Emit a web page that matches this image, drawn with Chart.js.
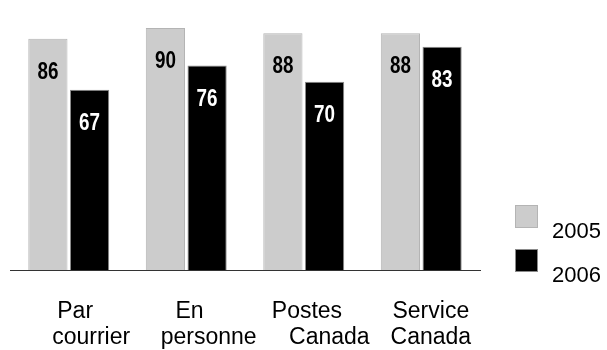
<!DOCTYPE html>
<html lang="fr">
<head>
<meta charset="UTF-8">
<title>2005 / 2006</title>
<script src="https://cdn.jsdelivr.net/npm/chart.js"></script>
<style>
  html, body { margin: 0; padding: 0; background: #fff; }
  #wrap { width: 607px; height: 350px; position: relative; }
</style>
</head>
<body>
<div id="wrap"><canvas id="chart"></canvas></div>
<script>
// category labels (line 1, line 2); leading spaces mimic the original offsets
const categories = [
  ['  Par', '       courrier'],
  [' En', '       personne'],
  [' Postes', '        Canada'],
  ['   Service', '   Canada']
];
const seriesNames = ['2005', '2006'];
const values2005 = [86, 90, 88, 88];
const values2006 = [67, 76, 70, 83];

// value labels written inside the top of each bar (condensed bold)
const valueLabels = {
  id: 'valueLabels',
  afterDatasetsDraw(chart) {
    const ctx = chart.ctx;
    ctx.save();
    ctx.font = 'bold 23px "Liberation Sans", Arial, sans-serif';
    ctx.textAlign = 'center';
    ctx.textBaseline = 'alphabetic';
    chart.data.datasets.forEach((ds, i) => {
      const meta = chart.getDatasetMeta(i);
      ctx.fillStyle = i === 0 ? '#000' : '#fff';
      meta.data.forEach((bar, j) => {
        ctx.save();
        ctx.translate(bar.x, bar.y + 40);
        ctx.scale(0.82, 1);
        ctx.fillText(String(ds.data[j]), 0, 0);
        ctx.restore();
      });
    });
    ctx.restore();
  }
};

// legend at the right, box above-left of its text
const sideLegend = {
  id: 'sideLegend',
  afterDraw(chart) {
    const ctx = chart.ctx;
    ctx.save();
    ctx.font = '22px "Liberation Sans", Arial, sans-serif';
    ctx.textAlign = 'left';
    ctx.textBaseline = 'alphabetic';
    chart.data.datasets.forEach((ds, i) => {
      const top = 205 + i * 44;
      ctx.fillStyle = ds.backgroundColor;
      ctx.fillRect(515, top, 23, 23);
      ctx.strokeStyle = ds.borderColor;
      ctx.lineWidth = 1;
      ctx.strokeRect(515.5, top + 0.5, 22, 22);
      ctx.fillStyle = '#000';
      ctx.fillText(ds.label, 552, top + 33);
    });
    ctx.restore();
  }
};

new Chart(document.getElementById('chart'), {
  type: 'bar',
  data: {
    labels: categories,
    datasets: [
      {
        label: seriesNames[0],
        data: values2005,
        backgroundColor: '#cccccc',
        borderColor: '#b4b4b4',
        borderWidth: 1
      },
      {
        label: seriesNames[1],
        data: values2006,
        backgroundColor: '#000000',
        borderColor: '#8a8a8a',
        borderWidth: 1
      }
    ]
  },
  options: {
    responsive: true,
    maintainAspectRatio: false,
    animation: false,
    layout: { padding: { top: 1, left: 10, right: 127, bottom: -1 } },
    datasets: {
      bar: { categoryPercentage: 0.71, barPercentage: 0.94 }
    },
    plugins: {
      legend: { display: false },
      tooltip: { enabled: false }
    },
    scales: {
      x: {
        grid: {
          display: true,
          drawOnChartArea: false,
          drawTicks: true,
          tickLength: 29,
          tickColor: 'rgba(0,0,0,0)'
        },
        border: { display: true, color: '#333', width: 1 },
        ticks: {
          color: '#000',
          padding: 0,
          maxRotation: 0,
          autoSkip: false,
          font: { family: '"Liberation Sans", Arial, sans-serif', size: 23, lineHeight: 1.13 }
        }
      },
      y: {
        display: false,
        min: 0,
        max: 100
      }
    }
  },
  plugins: [valueLabels, sideLegend]
});
</script>
</body>
</html>
